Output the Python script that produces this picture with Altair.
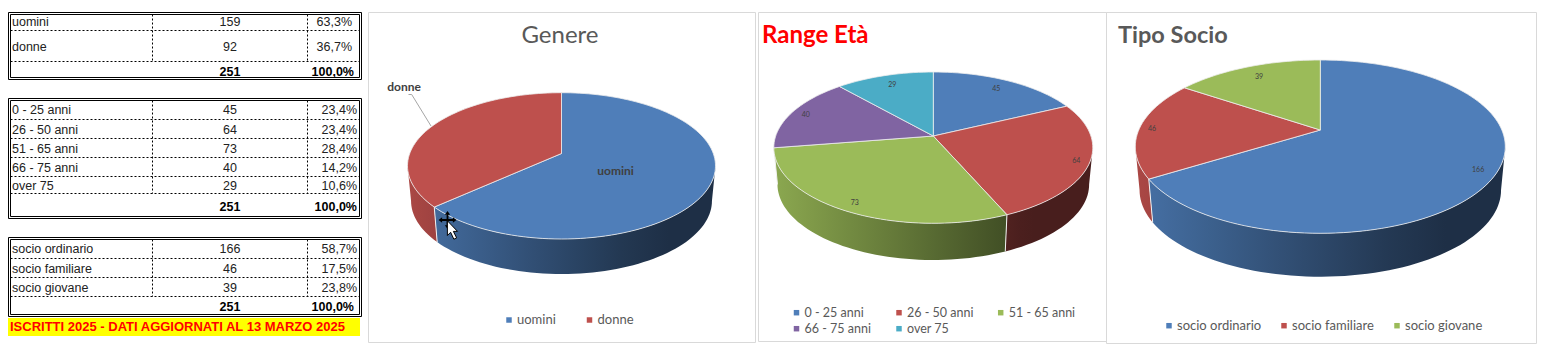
import math
import altair as alt
import pandas as pd

# ---------- data ----------
gender_labels = ["uomini", "donne"]
gender_values = [159, 92]
gender_pct = ["63,3%", "36,7%"]
age_labels = ["0 - 25 anni", "26 - 50 anni", "51 - 65 anni", "66 - 75 anni", "over 75"]
age_values = [45, 64, 73, 40, 29]
age_pct = ["23,4%", "23,4%", "28,4%", "14,2%", "10,6%"]
type_labels = ["socio ordinario", "socio familiare", "socio giovane"]
type_values = [166, 46, 39]
type_pct = ["58,7%", "17,5%", "23,8%"]
total_value = 251
total_pct = "100,0%"
banner = "ISCRITTI 2025 - DATI AGGIORNATI AL 13 MARZO 2025"

BLUE, RED, GREEN, PURPLE, TEAL = "#4F7EB9", "#BE504D", "#9BBB59", "#8064A2", "#4BACC6"
TABLE_FONT = "Liberation Sans"
CHART_FONT = "Lato"
GREY = "#595959"

X = alt.X("x:Q", scale=alt.Scale(domain=[8, 1546]), axis=None)
Y = alt.Y("y:Q", scale=alt.Scale(domain=[348, 8]), axis=None)
X2 = alt.X2("x2:Q")
Y2 = alt.Y2("y2:Q")
layers = []


def rect(x0, y0, x1, y1, **mark):
    df = pd.DataFrame([dict(x=x0, y=y0, x2=x1, y2=y1)])
    layers.append(alt.Chart(df).mark_rect(**mark).encode(x=X, y=Y, x2=X2, y2=Y2))


def hline(x0, x1, y, **mark):
    df = pd.DataFrame([dict(x=x0, x2=x1, y=y)])
    layers.append(alt.Chart(df).mark_rule(**mark).encode(x=X, x2=X2, y=Y))


def vline(x, y0, y1, **mark):
    df = pd.DataFrame([dict(x=x, y=y0, y2=y1)])
    layers.append(alt.Chart(df).mark_rule(**mark).encode(x=X, y=Y, y2=Y2))


def text(x, y, s, **mark):
    df = pd.DataFrame([dict(x=x, y=y, t=s)])
    mark.setdefault("baseline", "middle")
    layers.append(alt.Chart(df).mark_text(**mark).encode(x=X, y=Y, text="t:N"))


def poly(points, **mark):
    df = pd.DataFrame([dict(x=p[0], y=p[1], i=i) for i, p in enumerate(points)])
    layers.append(alt.Chart(df).mark_line(**mark).encode(x=X, y=Y, order=alt.Order("i:Q")))


# ---------- tables ----------
TS = dict(font=TABLE_FONT, fontSize=12.5, color="#222222")
TB = dict(font=TABLE_FONT, fontSize=12.5, fontWeight="bold", color="black")
DOT = dict(stroke="black", strokeWidth=1, strokeDash=[2, 2])


def table(top, bottom, labels, values, pcts, row_y, seps, total_y, pct_x, total_pct_x):
    for inset in (0, 2):
        rect(8.5 + inset, top + inset, 361.5 - inset, bottom - inset,
             fillOpacity=0, stroke="black", strokeWidth=1)
    for s in seps:
        hline(10.5, 359.5, s, **DOT)
    for vx in (152.5, 307.5):
        vline(vx, top + 2, seps[-1], **DOT)
    for lab, val, pct, y in zip(labels, values, pcts, row_y):
        text(12, y, lab, align="left", **TS)
        text(230, y, str(val), align="center", **TS)
        text(pct_x, y, pct, align="right", **TS)
    text(230, total_y, str(total_value), align="center", **TB)
    text(total_pct_x, total_y, total_pct, align="right", **TB)


table(12.5, 79.5, gender_labels, gender_values, gender_pct,
      [22, 47], [30.5, 61.5], 71.5, 352, 354)
table(98.5, 218.5, age_labels, age_values, age_pct,
      [110, 129.5, 148.5, 168, 186], [119.5, 138.5, 157.5, 176.5, 193.5], 206.5, 357, 357)
table(237.5, 316.5, type_labels, type_values, type_pct,
      [248.5, 268.5, 287.5], [258.5, 277.5, 296.5], 306.5, 357, 354)
rect(8, 318, 360, 336, fill="#FFFF00")
text(10, 326.5, banner, align="left", font=TABLE_FONT, fontSize=13, fontWeight="bold", color="#FF0000")


# ---------- 3D pies ----------
def shade(f):
    pts = [(0, .90), (.5, .57), (.8, .38), (1, .38)]
    for (a, va), (b, vb) in zip(pts, pts[1:]):
        if f <= b:
            return va + (vb - va) * (f - a) / (b - a)
    return .38


def darken(col, m):
    r, g, b = int(col[1:3], 16), int(col[3:5], 16), int(col[5:7], 16)
    return "#%02x%02x%02x" % (int(r * m), int(g * m), int(b * m))


def pie(values, colors, cx, top, apex, bottom, half_w, depth, label_r=None, font_size=7):
    c = (top + bottom - 2 * apex) / (bottom - top)
    a = top * (1 + c) - apex
    k = half_w * math.sqrt(1 - c * c)

    def proj(deg, r=1.0):
        t = math.radians(deg)
        u, v = r * math.sin(t), r * math.cos(t)
        w = 1 + c * v
        return cx + k * u / w, (a * v + apex) / w

    total = sum(values)
    edges = [0.0]
    for val in values:
        edges.append(edges[-1] + 360.0 * val / total)

    def arc(d0, d1):
        n = max(2, int(abs(d1 - d0) / 2) + 1)
        return [d0 + (d1 - d0) * i / (n - 1) for i in range(n)]

    front0 = math.degrees(math.acos(-c))
    front1 = 360 - front0
    for i, col in enumerate(colors):
        d0, d1 = max(edges[i], front0), min(edges[i + 1], front1)
        if d1 <= d0:
            continue
        rim = [proj(d) for d in arc(d0, d1)]
        low = [(cx + (x - cx) * .977, y + depth) for x, y in rim]
        xs = [p[0] for p in rim + low]
        x0, x1 = min(xs), max(xs)
        stops = []
        for j in range(7):
            offs = j / 6
            f = ((x0 + (x1 - x0) * offs) - (cx - half_w)) / (2 * half_w)
            stops.append(dict(offset=offs, color=darken(col, shade(f))))
        grad = dict(gradient="linear", x1=0, y1=0, x2=1, y2=0, stops=stops)
        poly(rim + low[::-1] + [rim[0]], fill=grad, strokeOpacity=0)
    for e in edges[:-1]:
        if front0 < e < front1:
            x, y = proj(e)
            poly([(x, y), (cx + (x - cx) * .977, y + depth)], stroke="#f2f2f2", strokeWidth=1)
    for i, col in enumerate(colors):
        pts = [(cx, apex)] + [proj(d) for d in arc(edges[i], edges[i + 1])] + [(cx, apex)]
        poly(pts, fill=col, stroke="#eeeeee", strokeWidth=0.8)
    if label_r:
        for i, r in enumerate(label_r):
            x, y = proj((edges[i] + edges[i + 1]) / 2, r)
            text(x, y, str(values[i]), align="center", font=CHART_FONT,
                 fontSize=font_size, color="#404040")


def legend(items, size):
    for lab, col, sx, y in items:
        df = pd.DataFrame([dict(x=sx, y=y)])
        layers.append(alt.Chart(df).mark_square(color=col, size=30, opacity=1).encode(x=X, y=Y))
        text(sx + 8, y, lab, align="left", font=CHART_FONT, fontSize=size, color=GREY)


# panel frames
FRAME = dict(fillOpacity=0, stroke="#d9d9d9", strokeWidth=1)
rect(368.5, 12.5, 755.5, 342.5, **FRAME)
rect(758.5, 12.5, 1106.5, 341.5, **FRAME)
rect(1106.5, 12.5, 1536.5, 343.5, **FRAME)

# Genere
pie(gender_values, [BLUE, RED], 561.5, 92.7, 153.5, 239, 154, 35)
text(560, 36, "Genere", align="center", font=CHART_FONT, fontSize=24, color=GREY)
poly([(408.5, 94.5), (411.7, 94.5), (431, 126)], stroke="#a6a6a6", strokeWidth=1)
text(404, 87, gender_labels[1], align="center", font=CHART_FONT, fontSize=12, fontWeight="bold", color="#404040")
text(615.5, 171, gender_labels[0], align="center", font=CHART_FONT, fontSize=12, fontWeight="bold", color="#404040")
legend([(gender_labels[0], BLUE, 509, 320), (gender_labels[1], RED, 589.5, 320)], 13)

# Range Età
pie(age_values, [BLUE, RED, GREEN, PURPLE, TEAL], 933.3, 72, 136, 223.3, 159.5, 36.7,
    label_r=[.83, .92, .91, .9, .82])
text(762, 36, "Range Età", align="left", font=CHART_FONT, fontSize=24, fontWeight="bold", color="#FF0000")
legend([(age_labels[0], BLUE, 796.5, 312.7), (age_labels[1], RED, 899, 312.7),
        (age_labels[2], GREEN, 1000.7, 312.7), (age_labels[3], PURPLE, 796.5, 328.7),
        (age_labels[4], TEAL, 899, 328.7)], 12.5)

# Tipo Socio
pie(type_values, [BLUE, RED, GREEN], 1320.3, 60, 130, 233.3, 185, 43.4,
    label_r=[.91, .93, .82])
text(1118, 36, "Tipo Socio", align="left", font=CHART_FONT, fontSize=23.5, fontWeight="bold", color=GREY)
legend([(type_labels[0], BLUE, 1169, 325.7), (type_labels[1], RED, 1284, 325.7),
        (type_labels[2], GREEN, 1397, 325.7)], 13)

# mouse pointer from the screenshot
cross = ("M0,-1 L0.3,-0.6 L0.1,-0.6 L0.1,-0.1 L0.6,-0.1 L0.6,-0.3 L1,0 L0.6,0.3 L0.6,0.1 L0.1,0.1 "
         "L0.1,0.6 L0.3,0.6 L0,1 L-0.3,0.6 L-0.1,0.6 L-0.1,0.1 L-0.6,0.1 L-0.6,0.3 L-1,0 L-0.6,-0.3 "
         "L-0.6,-0.1 L-0.1,-0.1 L-0.1,-0.6 L-0.3,-0.6 Z")
arrow = "M-0.5,-1 L-0.5,0.6 L-0.15,0.25 L0.2,1 L0.5,0.85 L0.15,0.15 L0.6,0.15 Z"
layers.append(alt.Chart(pd.DataFrame([dict(x=447.5, y=220)])).mark_point(
    shape=cross, size=320, filled=True, color="black", opacity=1).encode(x=X, y=Y))
layers.append(alt.Chart(pd.DataFrame([dict(x=452, y=230)])).mark_point(
    shape=arrow, size=340, filled=True, fill="white", stroke="black", strokeWidth=1, opacity=1).encode(x=X, y=Y))

chart = alt.layer(*layers).properties(width=1538, height=340, padding=0, background="white") \
    .configure_view(stroke=None)
chart.save("out.html", embed_options={"renderer": "svg", "actions": False})
